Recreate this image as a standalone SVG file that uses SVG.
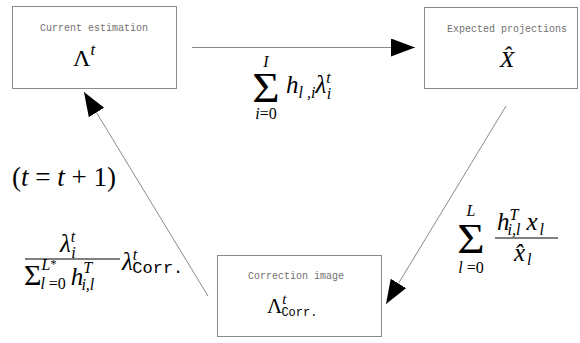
<svg xmlns="http://www.w3.org/2000/svg" width="580" height="343" viewBox="0 0 580 343">
<style>
.box{fill:#fff;stroke:#8a8a8a;stroke-width:1}
.lbl{font-family:'Liberation Mono','DejaVu Sans Mono',monospace;font-size:10px;fill:#707070;text-anchor:middle}
.m{font-family:'Liberation Serif','Times New Roman',serif;fill:#000}
.i{font-style:italic}
.tt{font-family:'Liberation Mono','DejaVu Sans Mono',monospace;font-style:normal}
.conn{stroke:#8a8a8a;stroke-width:1;fill:none;marker-end:url(#ah)}
</style>
<defs>
<marker id="ah" markerUnits="userSpaceOnUse" markerWidth="26" markerHeight="20" refX="24" refY="9" orient="auto">
<path d="M0,0 L24,9 L0,18 z" fill="#000"/>
</marker>
</defs>
<rect width="580" height="343" fill="#fff"/>
<g id="connectors">
<line class="conn" x1="192" y1="47.5" x2="415" y2="47.5"/>
<line class="conn" x1="506" y1="106" x2="386" y2="304"/>
<line class="conn" x1="208" y1="296" x2="84" y2="92"/>
</g>
<g id="current">
<rect class="box" x="12.5" y="6.5" width="164" height="82"/>
<text class="lbl" x="94" y="31">Current estimation</text>
<text class="m" x="73" y="66" font-size="24">Λ<tspan class="i" font-size="17" dy="-11">t</tspan></text>
</g>
<g id="expected">
<rect class="box" x="424.5" y="7.5" width="153" height="81"/>
<text class="lbl" x="507" y="32">Expected projections</text>
<text class="m i" x="507" y="67" font-size="24" text-anchor="middle">X̂</text>
</g>
<g id="correction">
<rect class="box" x="217.5" y="255.5" width="164" height="81"/>
<text class="lbl" x="296" y="279">Correction image</text>
<text class="m" x="267" y="313" font-size="21">Λ<tspan class="i" font-size="15" dy="-9">t</tspan><tspan class="tt" font-size="12" dx="-5" dy="12">Corr.</tspan></text>
</g>
<g id="formula-top">
<text class="m" x="266" y="102" font-size="42" text-anchor="middle" transform="translate(266 0) scale(1.12 1) translate(-266 0)">Σ</text>
<text class="m i" x="266" y="67" font-size="16" text-anchor="middle">I</text>
<text class="m" x="266" y="119" font-size="16" text-anchor="middle"><tspan class="i">i</tspan>=0</text>
<text class="m i" x="286" y="93" font-size="25">h<tspan font-size="16" dy="5">l ,i</tspan><tspan dy="-5">λ</tspan><tspan font-size="16" dy="-10">t</tspan><tspan font-size="16" dx="-4" dy="16">i</tspan></text>
</g>
<g id="formula-right">
<text class="m" x="471" y="253" font-size="42" text-anchor="middle" transform="translate(471 0) scale(1.12 1) translate(-471 0)">Σ</text>
<text class="m i" x="471" y="216" font-size="16" text-anchor="middle">L</text>
<text class="m" x="471" y="273" font-size="16" text-anchor="middle"><tspan class="i">l</tspan> =0</text>
<text class="m i" x="497" y="230" font-size="25">h<tspan font-size="16" dy="-10">T</tspan><tspan font-size="16" dx="-10" dy="15">i,l</tspan><tspan dx="6" dy="-5">x</tspan><tspan font-size="16" dx="2" dy="5">l</tspan></text>
<line x1="495" y1="238" x2="558" y2="238" stroke="#000" stroke-width="1"/>
<text class="m i" x="514" y="261" font-size="25">x̂<tspan font-size="16" dx="2" dy="4">l</tspan></text>
</g>
<g id="formula-left">
<text class="m" x="12" y="186" font-size="27">(<tspan class="i">t</tspan> = <tspan class="i">t</tspan> + 1)</text>
<text class="m i" x="60" y="252" font-size="25">λ<tspan font-size="16" dy="-10">t</tspan><tspan font-size="16" dx="-4" dy="16">i</tspan></text>
<line x1="25" y1="259" x2="120" y2="259" stroke="#000" stroke-width="1"/>
<text class="m" x="24" y="285" font-size="30">Σ<tspan class="i" font-size="16" dy="-15">L</tspan><tspan font-size="12" dy="-2">*</tspan><tspan class="i" font-size="16" dx="-16" dy="21">l</tspan><tspan font-size="16"> =0</tspan><tspan class="i" font-size="25" dx="5" dy="-4">h</tspan><tspan class="i" font-size="16" dy="-12">T</tspan><tspan class="i" font-size="16" dx="-10" dy="17">i,l</tspan></text>
<text class="m" x="122" y="270" font-size="25"><tspan class="i">λ</tspan><tspan class="i" font-size="16" dy="-10">t</tspan><tspan class="tt" font-size="17" dx="-5" dy="13">Corr.</tspan></text>
</g>
</svg>
